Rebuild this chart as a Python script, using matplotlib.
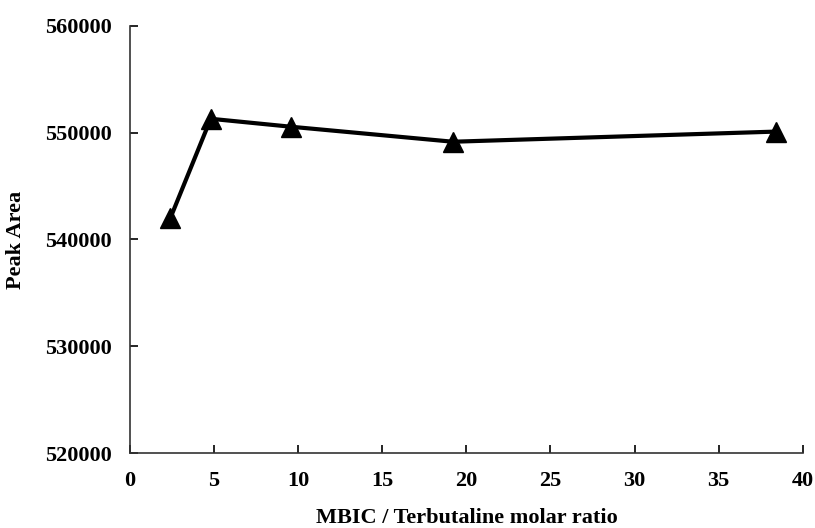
import matplotlib
matplotlib.use("Agg")
import matplotlib.pyplot as plt

# MBIC / terbutaline molar ratio vs. peak area
molar_ratio = [2.4, 4.8, 9.6, 19.2, 38.4]
peak_area = [542000, 551300, 550550, 549150, 550100]

x_ticks = [0, 5, 10, 15, 20, 25, 30, 35, 40]
y_ticks = [520000, 530000, 540000, 550000, 560000]

plt.rcParams["font.family"] = ["Liberation Serif", "DejaVu Serif"]
plt.rcParams["font.weight"] = "bold"

fig = plt.figure(figsize=(8.15, 5.28), dpi=100)
ax = fig.add_axes([0.1595, 0.142, 0.8255, 0.809])

ax.plot(molar_ratio, peak_area, color="black", linewidth=3,
        marker="^", markersize=14, markerfacecolor="black", markeredgecolor="black")

ax.set_xlim(0, 40)
ax.set_ylim(520000, 560000)
ax.set_xticks(x_ticks)
ax.set_yticks(y_ticks)
ax.set_xticklabels([str(t) for t in x_ticks], fontsize=16, fontweight="bold")
ax.set_yticklabels([str(t) for t in y_ticks], fontsize=16, fontweight="bold")

ax.spines["top"].set_visible(False)
ax.spines["right"].set_visible(False)
for side in ("left", "bottom"):
    ax.spines[side].set_linewidth(1.2)
    ax.spines[side].set_color("#333333")

ax.tick_params(axis="x", direction="in", length=6, width=1.2, pad=13)
ax.tick_params(axis="y", direction="in", length=6, width=1.2, pad=13)

ax.set_xlabel("MBIC / Terbutaline molar ratio", fontsize=16, fontweight="bold", labelpad=12)
ax.set_ylabel("Peak Area", fontsize=16, fontweight="bold", labelpad=14)

fig.savefig("out.png", dpi=100)
